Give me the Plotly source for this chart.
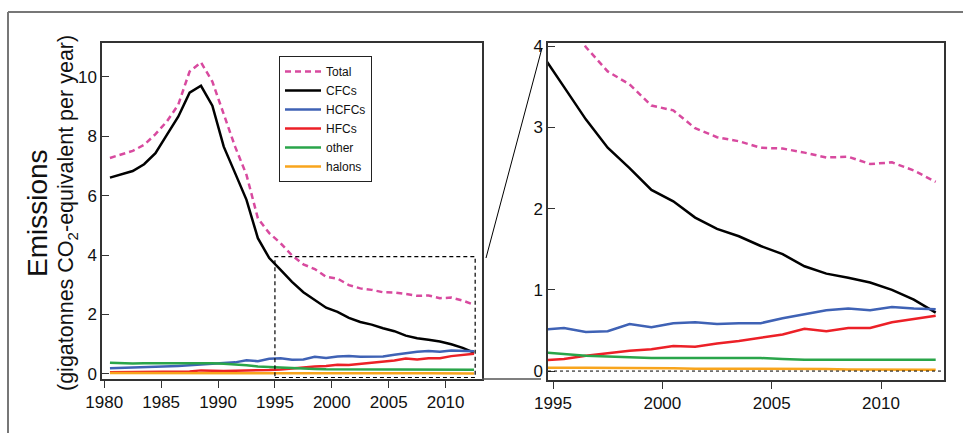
import plotly.graph_objects as go

# ---- data ----
years = list(range(1980, 2013))

total = [7.27, 7.40, 7.51, 7.71, 8.07, 8.50, 9.06, 10.18, 10.49, 9.84, 8.72, 7.65,
         6.70, 5.24, 4.74, 4.40, 3.99, 3.69, 3.53, 3.27, 3.21, 2.99, 2.88, 2.83,
         2.75, 2.74, 2.69, 2.63, 2.64, 2.55, 2.57, 2.47, 2.33]
cfcs = [6.61, 6.72, 6.83, 7.06, 7.43, 8.05, 8.66, 9.47, 9.70, 9.03, 7.65, 6.76,
        5.86, 4.57, 3.90, 3.50, 3.10, 2.75, 2.50, 2.23, 2.09, 1.89, 1.75, 1.66,
        1.54, 1.44, 1.29, 1.20, 1.15, 1.09, 1.00, 0.88, 0.72]
hcfcs = [0.19, 0.20, 0.21, 0.22, 0.23, 0.25, 0.27, 0.29, 0.31, 0.34, 0.36, 0.39,
         0.46, 0.43, 0.51, 0.53, 0.48, 0.49, 0.58, 0.54, 0.59, 0.60, 0.58, 0.59,
         0.59, 0.65, 0.70, 0.75, 0.77, 0.75, 0.79, 0.77, 0.76]
hfcs = [0.06, 0.065, 0.07, 0.07, 0.075, 0.08, 0.08, 0.08, 0.12, 0.10, 0.10, 0.11,
        0.11, 0.12, 0.13, 0.15, 0.19, 0.22, 0.25, 0.27, 0.31, 0.30, 0.34, 0.37,
        0.41, 0.45, 0.52, 0.49, 0.53, 0.53, 0.60, 0.64, 0.68]
other = [0.38, 0.36, 0.35, 0.36, 0.36, 0.36, 0.37, 0.36, 0.37, 0.36, 0.34, 0.32,
         0.29, 0.25, 0.23, 0.21, 0.19, 0.18, 0.17, 0.16, 0.16, 0.16, 0.16, 0.16,
         0.16, 0.15, 0.14, 0.14, 0.14, 0.14, 0.14, 0.14, 0.14]
halons = [0.03, 0.03, 0.035, 0.035, 0.04, 0.04, 0.045, 0.05, 0.05, 0.05, 0.05, 0.05,
          0.045, 0.045, 0.04, 0.04, 0.04, 0.04, 0.035, 0.035, 0.035, 0.03, 0.03, 0.03,
          0.03, 0.025, 0.025, 0.025, 0.02, 0.02, 0.02, 0.02, 0.015]

left_ticks = [1980, 1985, 1990, 1995, 2000, 2005, 2010]
right_ticks = [1995, 2000, 2005, 2010]

# annual values plotted at mid-year
xpos = [y + 0.5 for y in years]

series = [
    ("Total", total, "#d84a9f", "6px,4px"),
    ("CFCs", cfcs, "#000000", "solid"),
    ("HCFCs", hcfcs, "#3f62b5", "solid"),
    ("HFCs", hfcs, "#ec2027", "solid"),
    ("other", other, "#2aa54a", "solid"),
    ("halons", halons, "#f8a51d", "solid"),
]

fig = go.Figure()
for name, vals, col, dash in series:
    fig.add_trace(go.Scatter(x=xpos, y=vals, mode="lines", name=name,
                             line=dict(color=col, width=2.5, dash=dash),
                             xaxis="x", yaxis="y", showlegend=True))
for name, vals, col, dash in series:
    fig.add_trace(go.Scatter(x=xpos, y=vals, mode="lines", name=name,
                             line=dict(color=col, width=2.5, dash=dash),
                             xaxis="x2", yaxis="y2", showlegend=False))

W, H = 963, 433
tickfont = dict(family="Liberation Sans, Arial, sans-serif", size=17, color="#111")
axcol = "#333333"

common_x = dict(showline=True, linecolor=axcol, linewidth=1.5, mirror=True,
                ticks="outside", ticklen=7, tickwidth=1.2, tickcolor=axcol,
                showgrid=False, zeroline=False, tickfont=tickfont, automargin=False)
common_y = dict(showline=True, linecolor=axcol, linewidth=1.5, mirror=True,
                ticks="inside", ticklen=7, tickwidth=1.2, tickcolor=axcol,
                showgrid=False, zeroline=False, tickfont=tickfont, automargin=False)

fig.update_layout(
    width=W, height=H, autosize=False,
    margin=dict(l=0, r=0, t=0, b=0, pad=0, autoexpand=False),
    paper_bgcolor="white", plot_bgcolor="white",
    xaxis=dict(domain=[102 / W, 482 / W], range=[1979.8, 2013.2],
               tickvals=left_ticks, anchor="y", **common_x),
    yaxis=dict(domain=[54 / H, 390 / H], range=[-0.17, 11.14],
               tickvals=[0, 2, 4, 6, 8, 10], anchor="x", **common_y),
    xaxis2=dict(domain=[548 / W, 944 / W], range=[1994.77, 2012.88],
                tickvals=right_ticks, anchor="y2", **common_x),
    yaxis2=dict(domain=[53 / H, 390 / H], range=[-0.11, 4.04],
                tickvals=[0, 1, 2, 3, 4], anchor="x2", **common_y),
    legend=dict(x=279 / W, y=1 - 56 / H, xanchor="left", yanchor="top",
                bgcolor="white", bordercolor="#222", borderwidth=1,
                font=dict(family="Liberation Sans, Arial, sans-serif", size=12, color="#111"),
                tracegroupgap=0, itemwidth=36),
    showlegend=True,
)

fig.add_annotation(text="Emissions", xref="paper", yref="paper",
                   x=37 / W, y=1 - 213 / H, xanchor="center", yanchor="middle",
                   textangle=-90, showarrow=False,
                   font=dict(family="Liberation Sans, Arial, sans-serif", size=28, color="#111"))
fig.add_annotation(text="(gigatonnes CO<sub>2</sub>-equivalent per year)",
                   xref="paper", yref="paper",
                   x=67 / W, y=1 - 213 / H, xanchor="center", yanchor="middle",
                   textangle=-90, showarrow=False,
                   font=dict(family="Liberation Sans, Arial, sans-serif", size=21.5, color="#111"))

# dashed zoom box in the left panel
fig.add_shape(type="rect", xref="x", yref="y", x0=1995, x1=2012.6, y0=-0.12, y1=3.95,
              line=dict(color="black", width=1.2, dash="4px,3px"))
# dotted zero line in the right panel
fig.add_shape(type="line", xref="x2 domain", yref="y2", x0=0, x1=1, y0=0, y1=0,
              line=dict(color="black", width=1, dash="dot"))
# connector lines between panels
fig.add_shape(type="line", xref="paper", yref="paper",
              x0=486 / W, y0=1 - 258 / H, x1=542 / W, y1=1 - 48 / H,
              line=dict(color="black", width=1))
fig.add_shape(type="line", xref="paper", yref="paper",
              x0=482 / W, y0=1 - 379 / H, x1=541 / W, y1=1 - 379 / H,
              line=dict(color="#555", width=1.5))
# outer frame (top and left edges)
fig.add_shape(type="line", xref="paper", yref="paper",
              x0=8 / W, y0=1 - 12 / H, x1=1, y1=1 - 12 / H,
              line=dict(color="#777", width=2))
fig.add_shape(type="line", xref="paper", yref="paper",
              x0=8 / W, y0=1 - 12 / H, x1=8 / W, y1=0,
              line=dict(color="#777", width=2))

fig.write_html("out.html", config={"responsive": False, "displayModeBar": False},
               post_script="document.body.style.margin='0';document.body.style.overflow='hidden';")
